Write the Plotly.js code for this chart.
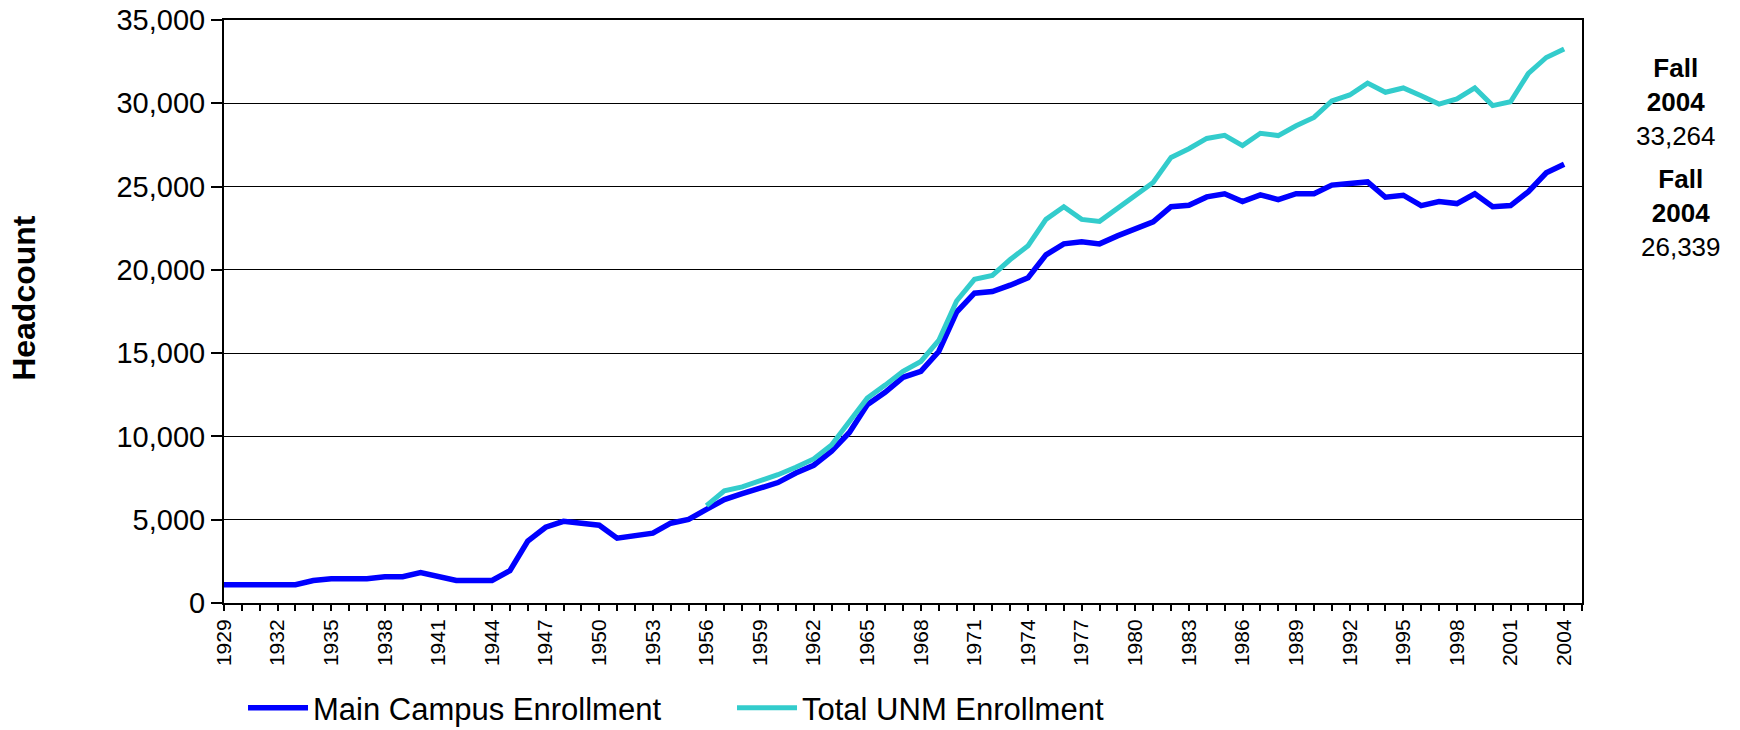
<!DOCTYPE html>
<html>
<head>
<meta charset="utf-8">
<script src="https://cdn.plot.ly/plotly-3.0.1.min.js"></script>
<style>
  html, body { margin: 0; padding: 0; background: #ffffff; }
  #chart { width: 1740px; height: 730px; }
</style>
</head>
<body>
<div id="chart"></div>
<script>
// ---- Data ----
const years = [
  1929, 1930, 1931, 1932, 1933, 1934, 1935, 1936, 1937, 1938,
  1939, 1940, 1941, 1942, 1943, 1944, 1945, 1946, 1947, 1948,
  1949, 1950, 1951, 1952, 1953, 1954, 1955, 1956, 1957, 1958,
  1959, 1960, 1961, 1962, 1963, 1964, 1965, 1966, 1967, 1968,
  1969, 1970, 1971, 1972, 1973, 1974, 1975, 1976, 1977, 1978,
  1979, 1980, 1981, 1982, 1983, 1984, 1985, 1986, 1987, 1988,
  1989, 1990, 1991, 1992, 1993, 1994, 1995, 1996, 1997, 1998,
  1999, 2000, 2001, 2002, 2003, 2004
];

const mainCampus = [
  1100, 1100, 1100, 1100, 1100, 1350, 1450, 1450, 1450, 1580,
  1580, 1820, 1590, 1350, 1350, 1350, 1940, 3720, 4550, 4900,
  4790, 4670, 3890, 4080, 4190, 4790, 5020, 5620, 6210, 6560,
  6920, 7230, 7800, 8270, 9120, 10240, 11900, 12650, 13550, 13910,
  15100, 17460, 18600, 18700, 19080, 19530, 20900, 21560, 21680, 21560,
  22040, 22420, 22880, 23790, 23880, 24380, 24570, 24100, 24500, 24220,
  24570, 24570, 25090, 25190, 25280, 24360, 24480, 23860, 24100, 23980,
  24570, 23790, 23860, 24690, 25830, 26339
];

const totalUNM = [
  null, null, null, null, null, null, null, null, null, null,
  null, null, null, null, null, null, null, null, null, null,
  null, null, null, null, null, null, null, 5850, 6730, 6970,
  7320, 7700, 8150, 8650, 9480, 10830, 12300, 13080, 13910, 14500,
  15760, 18130, 19430, 19670, 20620, 21450, 23030, 23790, 23030, 22910,
  23660, 24450, 25250, 26750, 27270, 27890, 28080, 27460, 28200, 28060,
  28650, 29150, 30140, 30500, 31210, 30660, 30920, 30450, 29950, 30260,
  30920, 29860, 30090, 31800, 32750, 33264
];

const seriesNames = ["Main Campus Enrollment", "Total UNM Enrollment"];
const seriesColors = ["#0000FF", "#33CCCC"];
const yTitle = "Headcount";
const calloutLabel = ["Fall", "2004"];

// ---- Chart ----
const FONT = "Arial, 'Liberation Sans', sans-serif";
const fmt = v => v.toLocaleString("en-US");
const lastTotal = totalUNM[totalUNM.length - 1];
const lastMain = mainCampus[mainCampus.length - 1];
const NB = "\u00A0";

const traces = [
  {
    x: years, y: mainCampus, name: seriesNames[0], type: "scatter", mode: "lines",
    line: { color: seriesColors[0], width: 5.5 }, hoverinfo: "skip"
  },
  {
    x: years, y: totalUNM, name: seriesNames[1], type: "scatter", mode: "lines",
    line: { color: seriesColors[1], width: 5 }, connectgaps: false, hoverinfo: "skip"
  }
];

const layout = {
  width: 1740, height: 730,
  margin: { l: 224, r: 158, t: 20, b: 127, pad: 0 },
  paper_bgcolor: "#ffffff", plot_bgcolor: "#ffffff",
  font: { family: FONT, color: "#000000" },
  showlegend: true,
  legend: {
    orientation: "h",
    xref: "paper", x: 0.014, xanchor: "left",
    yref: "container", y: 0.0301, yanchor: "middle",
    font: { family: FONT, size: 31, color: "#000000" },
    entrywidth: 414, entrywidthmode: "pixels",
    itemwidth: 60,
    bgcolor: "rgba(0,0,0,0)", borderwidth: 0
  },
  xaxis: {
    type: "linear",
    range: [1929, 2005],
    tick0: 1929, dtick: 3,
    tickangle: -90,
    ticks: "outside", ticklen: 6, tickwidth: 2, tickcolor: "#000000",
    minor: { dtick: 1, tick0: 1929, ticks: "outside", ticklen: 6, tickwidth: 2, tickcolor: "#000000", showgrid: false },
    showline: true, linecolor: "#000000", linewidth: 2, mirror: true,
    showgrid: false, zeroline: false,
    tickfont: { family: FONT, size: 21, color: "#000000" },
    automargin: false,
    fixedrange: true
  },
  yaxis: {
    range: [0, 35000],
    tick0: 0, dtick: 5000,
    tickformat: ",d",
    ticks: "outside", ticklen: 11, tickwidth: 2, tickcolor: "#000000",
    showline: true, linecolor: "#000000", linewidth: 2, mirror: true,
    showgrid: true, gridcolor: "#000000", gridwidth: 1,
    zeroline: false,
    tickfont: { family: FONT, size: 29, color: "#000000" },
    title: { text: "<b>" + NB + NB + NB + yTitle + "</b>", font: { family: FONT, size: 32, color: "#000000" }, standoff: 71 },
    automargin: false,
    fixedrange: true
  },
  annotations: [
    {
      xref: "paper", yref: "paper", x: 1.0692, y: 0.8593,
      xanchor: "center", yanchor: "middle", align: "center", showarrow: false,
      text: "<b>" + calloutLabel[0] + "</b><br><b>" + calloutLabel[1] + "</b><br>" + fmt(lastTotal),
      font: { family: FONT, size: 26, color: "#000000" }
    },
    {
      xref: "paper", yref: "paper", x: 1.0729, y: 0.669,
      xanchor: "center", yanchor: "middle", align: "center", showarrow: false,
      text: "<b>" + calloutLabel[0] + "</b><br><b>" + calloutLabel[1] + "</b><br>" + fmt(lastMain),
      font: { family: FONT, size: 26, color: "#000000" }
    }
  ]
};

Plotly.newPlot("chart", traces, layout, { staticPlot: true, displayModeBar: false });
</script>
</body>
</html>
